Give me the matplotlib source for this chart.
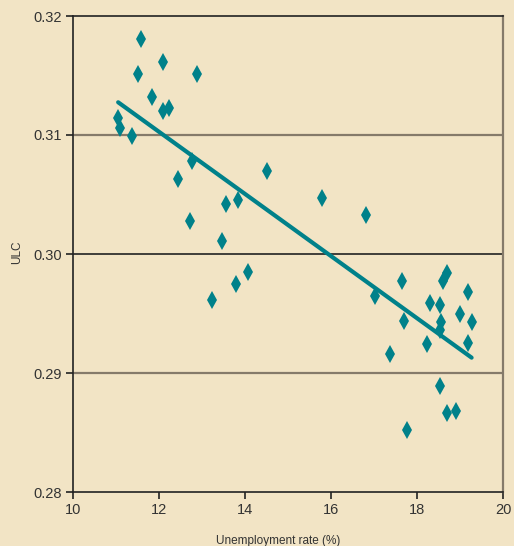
import matplotlib
matplotlib.use("Agg")
import matplotlib.pyplot as plt

# Unemployment rate (%) and unit labour cost observations
unemployment = [11.05, 11.09, 11.38, 11.59, 11.51, 11.83, 12.09, 12.09, 12.24, 12.89,
                12.45, 12.76, 12.72, 13.23, 13.47, 13.55, 13.83, 13.78, 14.07, 14.51,
                15.78, 16.81, 17.02, 17.37, 17.66, 17.70, 17.76, 18.23, 18.30, 18.54,
                18.55, 18.54, 18.61, 18.69, 18.54, 18.69, 18.91, 19.00, 19.19, 19.27,
                19.19]
ulc = [0.3114, 0.3106, 0.3099, 0.3181, 0.3151, 0.3132, 0.3161, 0.3120, 0.3123, 0.3151,
       0.3063, 0.3078, 0.3028, 0.2961, 0.3011, 0.3042, 0.3045, 0.2975, 0.2985, 0.3070,
       0.3047, 0.3033, 0.2965, 0.2916, 0.2977, 0.2944, 0.2852, 0.2924, 0.2959, 0.2957,
       0.2943, 0.2936, 0.2977, 0.2984, 0.2889, 0.2866, 0.2868, 0.2950, 0.2968, 0.2943,
       0.2925]

# Fitted trend line end points
trend_x = [11.05, 19.27]
trend_y = [0.31275, 0.29129]

x_ticks = [10, 12, 14, 16, 18, 20]
y_ticks = [0.28, 0.29, 0.30, 0.31, 0.32]
y_tick_labels = ["0.28", "0.29", "0.30", "0.31", "0.32"]

BG = "#F2E4C5"
TEAL = "#00818A"
TEXT = "#333333"
GRID = "#857a6a"

plt.rcParams["font.family"] = ["Liberation Sans", "DejaVu Sans"]

fig = plt.figure(figsize=(5.14, 5.46), dpi=100, facecolor=BG)
ax = fig.add_axes([73 / 514, 54 / 546, 430 / 514, 476 / 546])
ax.set_facecolor(BG)

ax.set_xlim(10, 20)
ax.set_ylim(0.28, 0.32)

# horizontal reference lines
for yv in (0.31, 0.29):
    ax.axhline(yv, color=GRID, lw=1.6, zorder=1)
ax.axhline(0.30, color="#222222", lw=1.2, zorder=1)

ax.plot(trend_x, trend_y, color=TEAL, lw=3.0, solid_capstyle="round", zorder=3)
ax.plot(unemployment, ulc, linestyle="none", marker="d", markersize=9.3,
        color=TEAL, markeredgewidth=0, zorder=4)

ax.set_xticks(x_ticks)
ax.set_xticklabels([str(t) for t in x_ticks])
ax.set_yticks(y_ticks)
ax.set_yticklabels(y_tick_labels)
ax.tick_params(axis="both", direction="out", length=5, width=1.2, color="#222222",
               labelsize=10.5, labelcolor=TEXT, pad=3)

for side in ("left", "bottom", "top"):
    ax.spines[side].set_color("#222222")
    ax.spines[side].set_linewidth(1.2)
ax.spines["right"].set_color(GRID)
ax.spines["right"].set_linewidth(1.6)

fig.text(278 / 514, 1 - 541 / 546, "Unemployment rate (%)", ha="center", va="center",
         fontsize=8.5, color=TEXT)
fig.text(17.5 / 514, 1 - 252 / 546, "ULC", ha="center", va="center", rotation=90,
         fontsize=8.5, color=TEXT)

fig.savefig("out.png", dpi=100, facecolor=BG)
